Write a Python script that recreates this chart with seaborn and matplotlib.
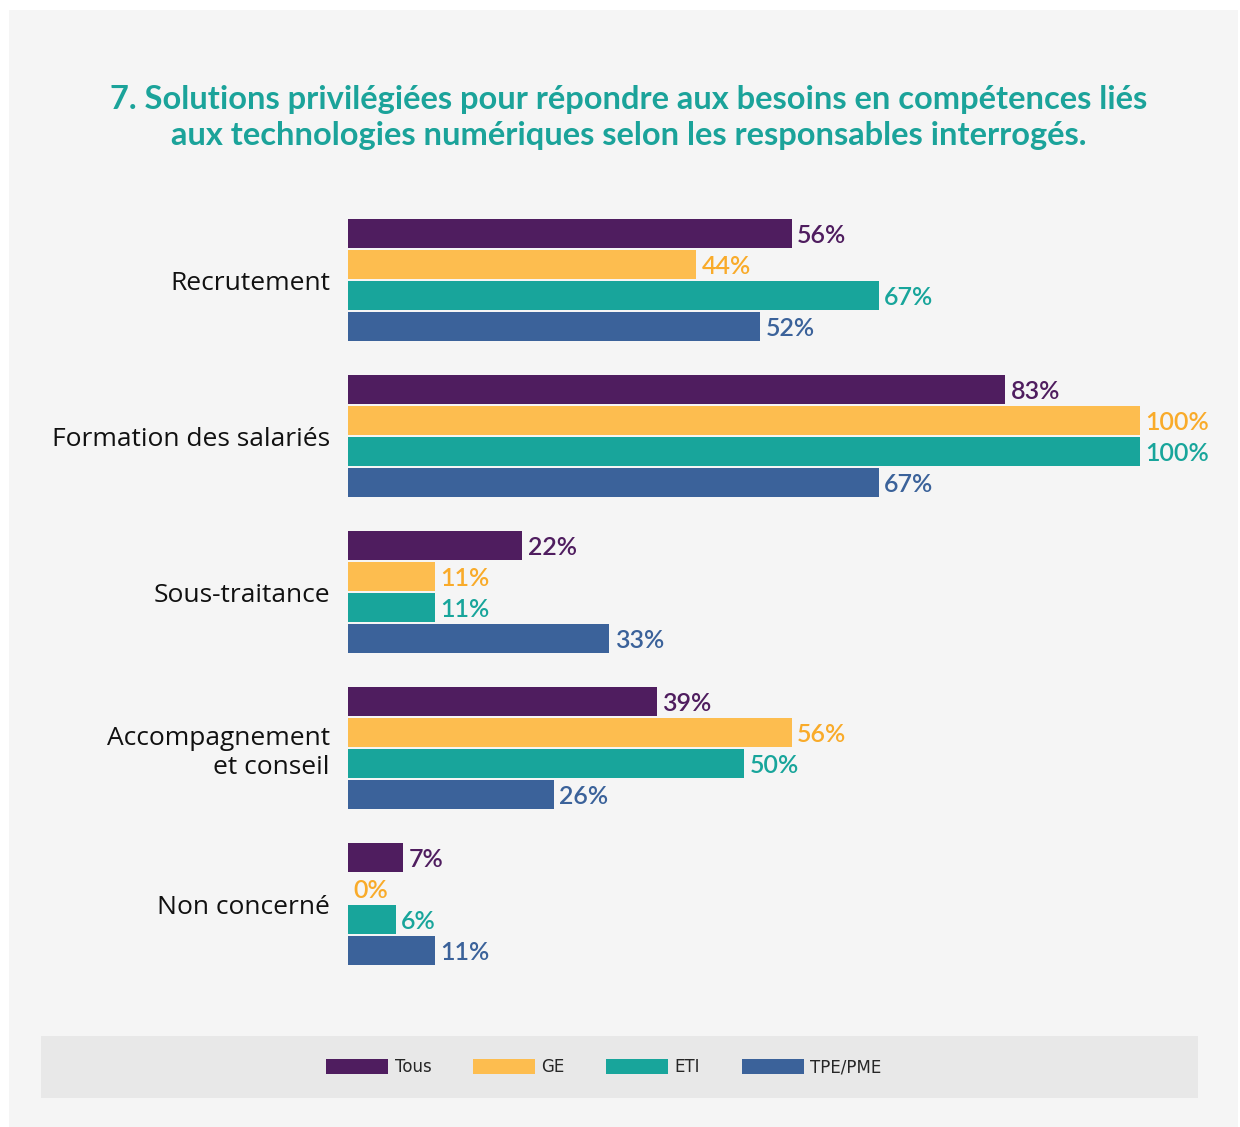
import matplotlib
matplotlib.use("Agg")
import matplotlib.pyplot as plt
from matplotlib.patches import Rectangle, Patch
import seaborn as sns
import pandas as pd

categories = ["Recrutement", "Formation des salariés", "Sous-traitance",
              "Accompagnement\net conseil", "Non concerné"]
series = ["Tous", "GE", "ETI", "TPE/PME"]
tous = [56, 83, 22, 39, 7]
ge = [44, 100, 11, 56, 0]
eti = [67, 100, 11, 50, 6]
tpe = [52, 67, 33, 26, 11]

bar_colors = ["#4f1d5f", "#fdbd4f", "#18a59b", "#3b629a"]
label_colors = ["#4f1d5f", "#f9ab2a", "#18a59b", "#3b629a"]
title_color = "#1ba39a"

rows = []
for s, vals in zip(series, [tous, ge, eti, tpe]):
    for c, v in zip(categories, vals):
        rows.append({"cat": c, "serie": s, "val": v})
df = pd.DataFrame(rows)

sns.set_theme(style="white")
plt.rcParams["font.family"] = ["Lato", "DejaVu Sans"]

W, H = 1240, 1127
fig = plt.figure(figsize=(W / 100, H / 100), dpi=100, facecolor="white")

# background panel
fig.patches.append(Rectangle((9 / W, 0), (1238 - 9) / W, (H - 10) / H,
                             transform=fig.transFigure, facecolor="#f5f5f5",
                             edgecolor="none", zorder=-10))
# legend band
fig.patches.append(Rectangle((41 / W, (H - 1098) / H), (1198 - 41) / W, 62 / H,
                             transform=fig.transFigure, facecolor="#e8e8e8",
                             edgecolor="none", zorder=-9))

ax = fig.add_axes([348 / W, 145 / H, (1140 - 348) / W, (982 - 202) / H])
ax.set_facecolor("none")
ax.set_zorder(1)

sns.barplot(data=df, y="cat", x="val", hue="serie", order=categories,
            hue_order=series, palette=bar_colors, orient="h", width=0.8,
            gap=0.07, ax=ax, legend=False, saturation=1, linewidth=0)

ax.set_xlim(0, 100)
ax.set_ylim(4.5, -0.5)
ax.set_xlabel("")
ax.set_ylabel("")
ax.set_xticks([])
for sp in ax.spines.values():
    sp.set_visible(False)
ax.tick_params(axis="y", length=0, pad=13)
for lab in ax.get_yticklabels():
    lab.set_fontsize(19)
    lab.set_family(["Open Sans", "DejaVu Sans"])
    lab.set_color("#111111")
    lab.set_ha("right")
    lab.set_multialignment("right")

for cont, col in zip(ax.containers, label_colors):
    for bar in cont:
        w = bar.get_width()
        y = bar.get_y() + bar.get_height() / 2
        ax.annotate(f"{w:.0f}%", xy=(w, y), xytext=(4, -1.5),
                    textcoords="offset points", va="center", ha="left",
                    fontsize=18, fontweight="semibold", color=col,
                    annotation_clip=False)

fig.text(629 / W, 1 - 100 / H,
         "7. Solutions privilégiées pour répondre aux besoins en compétences liés",
         ha="center", va="center", fontsize=23.5, fontweight="bold", color=title_color)
fig.text(629 / W, 1 - 135 / H,
         "aux technologies numériques selon les responsables interrogés.",
         ha="center", va="center", fontsize=23.5, fontweight="bold", color=title_color)

handles = [Patch(facecolor=c, edgecolor="none") for c in bar_colors]
fig.legend(handles, series, loc="center", bbox_to_anchor=(604 / W, 1 - 1067 / H),
           ncol=4, frameon=False, handlelength=3.7, handleheight=1.0,
           handletextpad=0.4, columnspacing=2.5,
           prop={"family": "DejaVu Sans", "size": 12})

fig.savefig("out.png", dpi=100, facecolor="white")
